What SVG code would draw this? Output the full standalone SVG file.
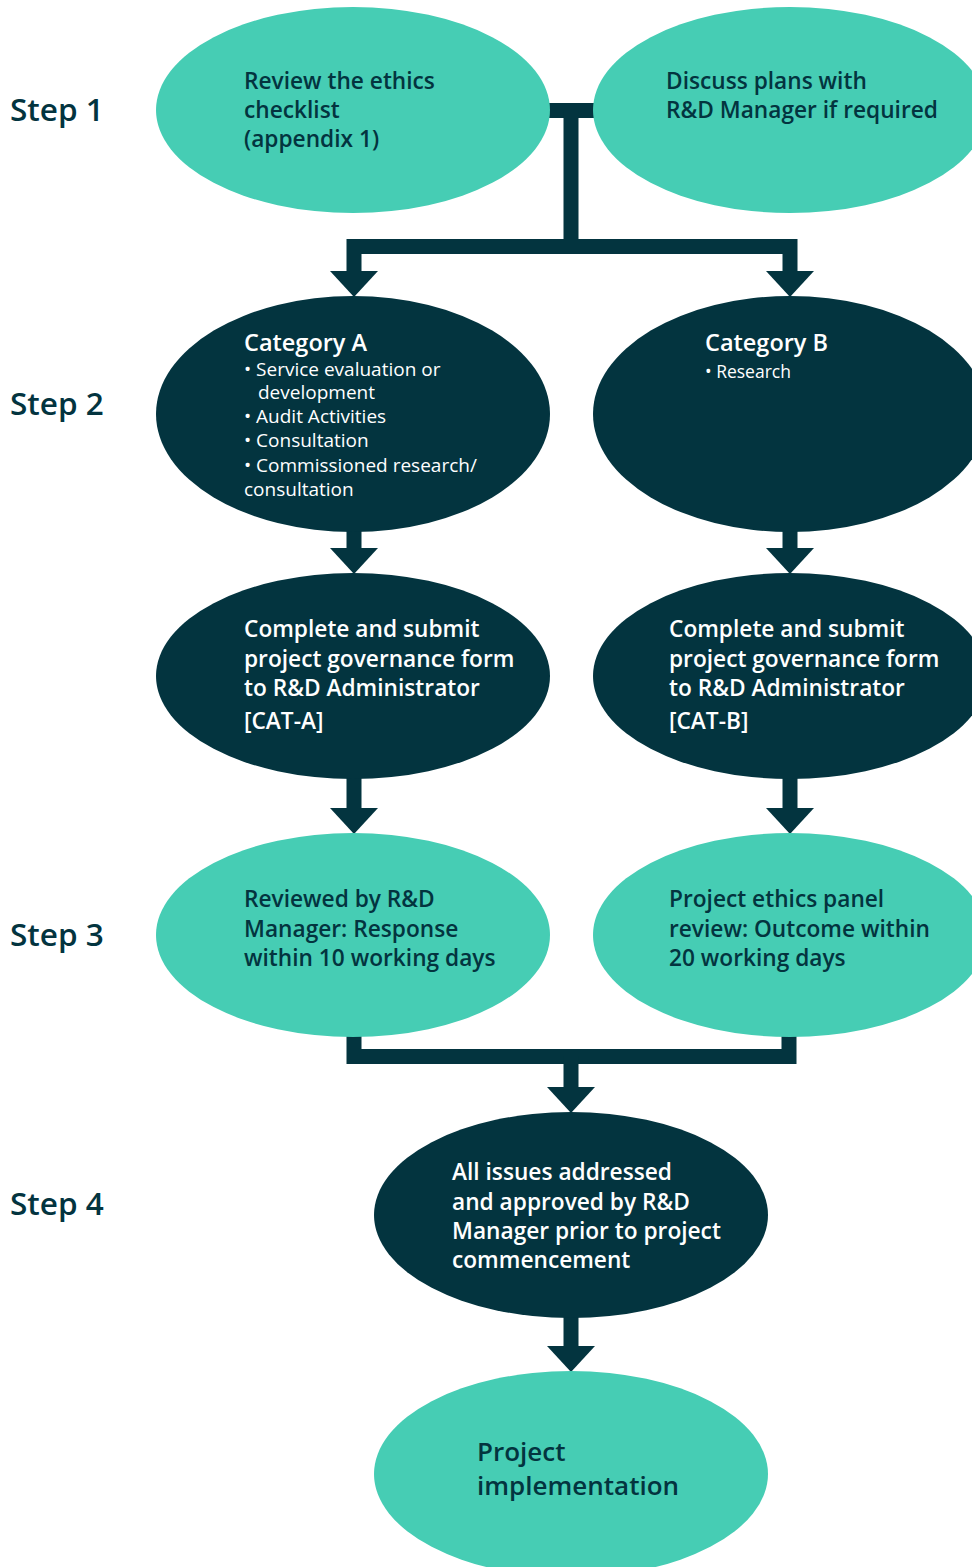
<svg xmlns="http://www.w3.org/2000/svg" width="972" height="1567" viewBox="0 0 972 1567">
<style>
.teal{fill:#46cdb4}
.dark{fill:#03343f}
.t{font-family:"Open Sans","Noto Sans","DejaVu Sans",sans-serif;font-size:22.7px;font-weight:600}
.h{font-size:23.5px}
.td{fill:#03343f}
.tw{fill:#ffffff}
.b{font-family:"Open Sans","Noto Sans","DejaVu Sans",sans-serif;font-size:19px;font-weight:400;fill:#ffffff}
.step{font-family:"Open Sans","Noto Sans","DejaVu Sans",sans-serif;font-size:31.5px;font-weight:600;fill:#03343f}
.c{fill:none;stroke:#03343f;stroke-width:15;stroke-linejoin:miter}
</style>
<defs>
<marker id="ah" markerUnits="userSpaceOnUse" viewBox="0 0 26 48" refX="0" refY="24" markerWidth="26" markerHeight="48" orient="auto-start-reverse">
<path d="M0,0 L26,24 L0,48 Z" fill="#03343f"/>
</marker>
</defs>
<rect width="972" height="1567" fill="#ffffff"/>
<g id="connectors">
<path class="c" d="M540,110.5 H600"/>
<path class="c" d="M571,110 V246.5"/>
<path class="c" d="M354,271 V246.5 H790 V271" marker-start="url(#ah)" marker-end="url(#ah)"/>
<path class="c" d="M354,520 V548" marker-end="url(#ah)"/>
<path class="c" d="M790,520 V548" marker-end="url(#ah)"/>
<path class="c" d="M354,770 V808" marker-end="url(#ah)"/>
<path class="c" d="M790,770 V808" marker-end="url(#ah)"/>
<path class="c" d="M354,1030 V1056.5 H789 V1030"/>
<path class="c" d="M571,1056 V1087" marker-end="url(#ah)"/>
<path class="c" d="M571,1310 V1346" marker-end="url(#ah)"/>
</g>
<g id="steps">
<text class="step" x="10" y="121">Step 1</text>
<text class="step" x="10" y="415">Step 2</text>
<text class="step" x="10" y="946">Step 3</text>
<text class="step" x="10" y="1215">Step 4</text>
</g>
<g id="n1">
<ellipse class="teal" cx="353" cy="110" rx="197" ry="103"/>
<text class="t td" x="244" y="89">Review the ethics</text>
<text class="t td" x="244" y="118">checklist</text>
<text class="t td" x="244" y="147">(appendix 1)</text>
</g>
<g id="n2">
<ellipse class="teal" cx="790" cy="110" rx="197" ry="103"/>
<text class="t td" x="666" y="89">Discuss plans with</text>
<text class="t td" x="666" y="118">R&amp;D Manager if required</text>
</g>
<g id="catA">
<ellipse class="dark" cx="353" cy="414" rx="197" ry="118"/>
<text class="t h tw" x="244" y="351">Category A</text>
<text class="b" x="244" y="376">• Service evaluation or</text>
<text class="b" x="258" y="399">development</text>
<text class="b" x="244" y="423">• Audit Activities</text>
<text class="b" x="244" y="447">• Consultation</text>
<text class="b" x="244" y="472">• Commissioned research/</text>
<text class="b" x="244" y="496">consultation</text>
</g>
<g id="catB">
<ellipse class="dark" cx="790" cy="414" rx="197" ry="118"/>
<text class="t h tw" x="705" y="351">Category B</text>
<text class="b" x="705" y="378" style="font-size:17.5px">• Research</text>
</g>
<g id="formA">
<ellipse class="dark" cx="353" cy="676" rx="197" ry="103"/>
<text class="t tw" x="244" y="637">Complete and submit</text>
<text class="t tw" x="244" y="667">project governance form</text>
<text class="t tw" x="244" y="696">to R&amp;D Administrator</text>
<text class="t tw" x="244" y="729">[CAT-A]</text>
</g>
<g id="formB">
<ellipse class="dark" cx="790" cy="676" rx="197" ry="103"/>
<text class="t tw" x="669" y="637">Complete and submit</text>
<text class="t tw" x="669" y="667">project governance form</text>
<text class="t tw" x="669" y="696">to R&amp;D Administrator</text>
<text class="t tw" x="669" y="729">[CAT-B]</text>
</g>
<g id="revA">
<ellipse class="teal" cx="353" cy="935" rx="197" ry="102"/>
<text class="t td" x="244" y="907">Reviewed by R&amp;D</text>
<text class="t td" x="244" y="937">Manager: Response</text>
<text class="t td" x="244" y="966">within 10 working days</text>
</g>
<g id="revB">
<ellipse class="teal" cx="790" cy="935" rx="197" ry="102"/>
<text class="t td" x="669" y="907">Project ethics panel</text>
<text class="t td" x="669" y="937">review: Outcome within</text>
<text class="t td" x="669" y="966">20 working days</text>
</g>
<g id="step4">
<ellipse class="dark" cx="571" cy="1215" rx="197" ry="103"/>
<text class="t tw" x="452" y="1180">All issues addressed</text>
<text class="t tw" x="452" y="1210">and approved by R&amp;D</text>
<text class="t tw" x="452" y="1239">Manager prior to project</text>
<text class="t tw" x="452" y="1268">commencement</text>
</g>
<g id="impl">
<ellipse class="teal" cx="571" cy="1474" rx="197" ry="103"/>
<text class="t td" x="477" y="1461" style="font-size:26px">Project</text>
<text class="t td" x="477" y="1495" style="font-size:26px">implementation</text>
</g>
</svg>
